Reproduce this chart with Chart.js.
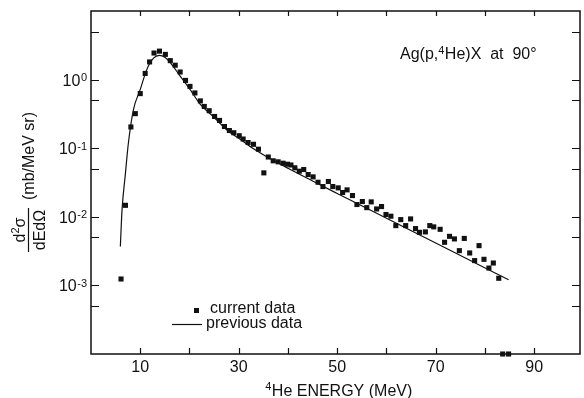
<!DOCTYPE html>
<html lang="en">
<head>
<meta charset="UTF-8" />
<title>Ag(p,4He)X at 90 degrees</title>
<script src="https://cdn.jsdelivr.net/npm/chart.js"></script>
<style>
  html, body { margin: 0; padding: 0; background: #fff; }
  #wrap { width: 584px; height: 398px; }
</style>
</head>
<body>
<div id="wrap"><canvas id="spectrum" width="584" height="398"></canvas></div>
<script>
// 4He energy (MeV) and d2sigma/dEdOmega (mb/MeV sr), this run
const currentEnergy = [6.1, 7.0, 8.1, 9.0, 10.0, 11.0, 11.9, 12.8, 13.9, 15.1,
  16.1, 17.1, 18.1, 19.2, 20.1, 21.1, 22.2, 23.0, 24.0, 25.1,
  26.1, 27.1, 28.1, 29.0, 30.1, 30.9, 31.9, 33.0, 34.0, 35.1,
  36.0, 37.0, 38.0, 39.0, 39.9, 40.6, 41.4, 42.3, 43.2, 44.1,
  45.1, 46.1, 47.1, 48.2, 49.1, 50.2, 51.1, 52.0, 53.1, 54.0,
  55.1, 56.0, 56.9, 58.0, 59.0, 59.9, 60.9, 61.9, 62.9, 63.9,
  64.9, 65.9, 66.7, 67.9, 68.8, 69.6, 70.9, 71.8, 72.8, 73.8,
  74.8, 75.8, 76.9, 77.9, 78.8, 79.8, 80.8, 81.7, 82.8, 83.6, 84.8];
const currentSigma = [0.00124, 0.0147, 0.204, 0.319, 0.625, 1.23, 1.81, 2.44, 2.60, 2.33,
  1.89, 1.62, 1.29, 0.973, 0.796, 0.639, 0.489, 0.406, 0.352, 0.290,
  0.254, 0.207, 0.181, 0.168, 0.152, 0.136, 0.121, 0.114, 0.0967, 0.0437,
  0.0744, 0.0655, 0.0633, 0.0604, 0.0584, 0.0569, 0.0518, 0.0462, 0.0489, 0.0413,
  0.0382, 0.0319, 0.0276, 0.0327, 0.0276, 0.0264, 0.0226, 0.0247, 0.0204, 0.0151,
  0.0167, 0.0136, 0.0165, 0.0130, 0.0141, 0.0108, 0.0102, 0.00744, 0.00910, 0.00744,
  0.00931, 0.00673, 0.00594, 0.00602, 0.00744, 0.00713, 0.00657, 0.00425, 0.00519, 0.00476,
  0.00321, 0.00484, 0.00297, 0.00230, 0.00380, 0.00240, 0.00179, 0.00212, 0.00127, 0.0001, 0.0001];

// earlier measurement, drawn as a smooth curve
const previousEnergy = [5.96, 6.3, 6.95, 7.6, 8.6, 10, 11.35, 12.7, 13.9, 15,
  16.1, 18, 20.1, 22.15, 24.8, 27.9, 30, 33, 35.7, 40, 45, 50, 60, 70, 84.8];
const previousSigma = [0.0037, 0.0125, 0.04, 0.12, 0.36, 0.72, 1.41, 2.05, 2.25, 2.12,
  1.77, 1.15, 0.72, 0.44, 0.29, 0.177, 0.14, 0.098, 0.075, 0.051, 0.0333, 0.0219, 0.00953, 0.00415, 0.00121];

// axes
const xTicks = [10, 20, 30, 40, 50, 60, 70, 80, 90];
const xTickLabels = ["10", "30", "50", "70", "90"];
const yTicks = [5, 1, 0.5, 0.1, 0.05, 0.01, 0.005, 0.001, 0.0005];
const yExponents = [0, -1, -2, -3];

const ink = "#111";
const fontFamily = '"Liberation Sans", Arial, Helvetica, sans-serif';

// draws "10" with a raised exponent, right aligned at x
function drawPower(ctx, exp, x, y) {
  const sup = String(exp);
  ctx.font = "11px " + fontFamily;
  const supW = ctx.measureText(sup).width;
  ctx.textAlign = "right";
  ctx.textBaseline = "alphabetic";
  ctx.fillText(sup, x, y + 1.5);
  ctx.font = "16px " + fontFamily;
  ctx.fillText("10", x - supW - 0.5, y + 6);
}

const framePlugin = {
  id: "frame",
  beforeDatasetsDraw(chart) {
    const { ctx, chartArea: a, scales } = chart;
    ctx.save();
    ctx.strokeStyle = ink;
    ctx.lineWidth = 1.5;
    ctx.strokeRect(a.left, a.top, a.right - a.left, a.bottom - a.top);
    ctx.lineWidth = 1.2;
    ctx.beginPath();
    xTicks.forEach(v => {
      const px = Math.round(scales.x.getPixelForValue(v)) + 0.5;
      ctx.moveTo(px, a.bottom); ctx.lineTo(px, a.bottom - 6);
      ctx.moveTo(px, a.top); ctx.lineTo(px, a.top + 5);
    });
    yTicks.forEach(v => {
      const py = Math.round(scales.y.getPixelForValue(v)) + 0.5;
      ctx.moveTo(a.left, py); ctx.lineTo(a.left + 8, py);
      ctx.moveTo(a.right, py); ctx.lineTo(a.right - 8, py);
    });
    ctx.stroke();
    ctx.restore();
  },
  afterDraw(chart) {
    const { ctx, chartArea: a, scales } = chart;
    ctx.save();
    ctx.fillStyle = ink;

    // x tick labels
    ctx.font = "16px " + fontFamily;
    ctx.textAlign = "center";
    ctx.textBaseline = "alphabetic";
    xTickLabels.forEach(t => {
      ctx.fillText(t, scales.x.getPixelForValue(Number(t)), a.bottom + 18);
    });

    // y tick labels
    yExponents.forEach(e => {
      drawPower(ctx, e, a.left - 4, scales.y.getPixelForValue(Math.pow(10, e)));
    });

    // x axis title
    ctx.textAlign = "left";
    const xt = "He ENERGY (MeV)";
    ctx.font = "11px " + fontFamily;
    const w4 = ctx.measureText("4").width;
    ctx.font = "16px " + fontFamily;
    const wt = ctx.measureText(xt).width;
    const x0 = (a.left + a.right) / 2 + 3 - (w4 + wt) / 2;
    ctx.font = "11px " + fontFamily;
    ctx.fillText("4", x0, 390);
    ctx.font = "16px " + fontFamily;
    ctx.fillText(xt, x0 + w4 + 0.5, 396);

    // reaction label
    let tx = 400;
    const ty = 59;
    ctx.fillText("Ag(p,", tx, ty);
    tx += ctx.measureText("Ag(p,").width;
    ctx.font = "11px " + fontFamily;
    ctx.fillText("4", tx, ty - 5);
    tx += ctx.measureText("4").width + 0.5;
    ctx.font = "16px " + fontFamily;
    ctx.fillText("He)X  at  90°", tx, ty);

    // y axis title, rotated
    ctx.save();
    ctx.translate(45, 230);
    ctx.rotate(-Math.PI / 2);
    ctx.textAlign = "center";
    ctx.font = "16px " + fontFamily;
    ctx.fillText("dEdΩ", 0, 0);
    ctx.lineWidth = 1.2;
    ctx.strokeStyle = ink;
    ctx.beginPath();
    ctx.moveTo(-22, -16.5); ctx.lineTo(22, -16.5);
    ctx.stroke();
    const wd = ctx.measureText("d").width;
    const ws = ctx.measureText("σ").width;
    ctx.font = "11px " + fontFamily;
    const w2 = ctx.measureText("2").width;
    const nx = -(wd + w2 + ws) / 2;
    ctx.textAlign = "left";
    ctx.font = "16px " + fontFamily;
    ctx.fillText("d", nx, -20);
    ctx.font = "11px " + fontFamily;
    ctx.fillText("2", nx + wd, -26);
    ctx.font = "16px " + fontFamily;
    ctx.fillText("σ", nx + wd + w2, -20);
    ctx.textAlign = "center";
    ctx.fillText("(mb/MeV sr)", 74, -11);
    ctx.restore();

    // legend
    ctx.font = "16px " + fontFamily;
    ctx.textAlign = "left";
    ctx.fillRect(194, 308, 5, 5);
    ctx.fillText("current data", 210, 313);
    ctx.lineWidth = 1.2;
    ctx.strokeStyle = ink;
    ctx.beginPath();
    ctx.moveTo(172, 324.5); ctx.lineTo(202, 324.5);
    ctx.stroke();
    ctx.fillText("previous data", 206, 328);
    ctx.restore();
  }
};

const ctx = document.getElementById("spectrum").getContext("2d");
new Chart(ctx, {
  type: "scatter",
  data: {
    datasets: [
      {
        label: "current data",
        data: currentEnergy.map((e, i) => ({ x: e, y: currentSigma[i] })),
        pointStyle: "rect",
        pointRadius: 3.6,
        backgroundColor: ink,
        borderWidth: 0,
        showLine: false,
        clip: false
      },
      {
        label: "previous data",
        data: previousEnergy.map((e, i) => ({ x: e, y: previousSigma[i] })),
        showLine: true,
        pointRadius: 0,
        borderColor: ink,
        borderWidth: 1.2,
        cubicInterpolationMode: "monotone",
        fill: false
      }
    ]
  },
  options: {
    responsive: false,
    animation: false,
    devicePixelRatio: 1,
    layout: { padding: { left: 91, right: 3, top: 11, bottom: 44 } },
    plugins: { legend: { display: false }, tooltip: { enabled: false } },
    scales: {
      x: { type: "linear", min: 0, max: 99.3, display: false },
      y: { type: "logarithmic", min: 0.0001, max: 10, display: false }
    }
  },
  plugins: [framePlugin]
});
</script>
</body>
</html>
